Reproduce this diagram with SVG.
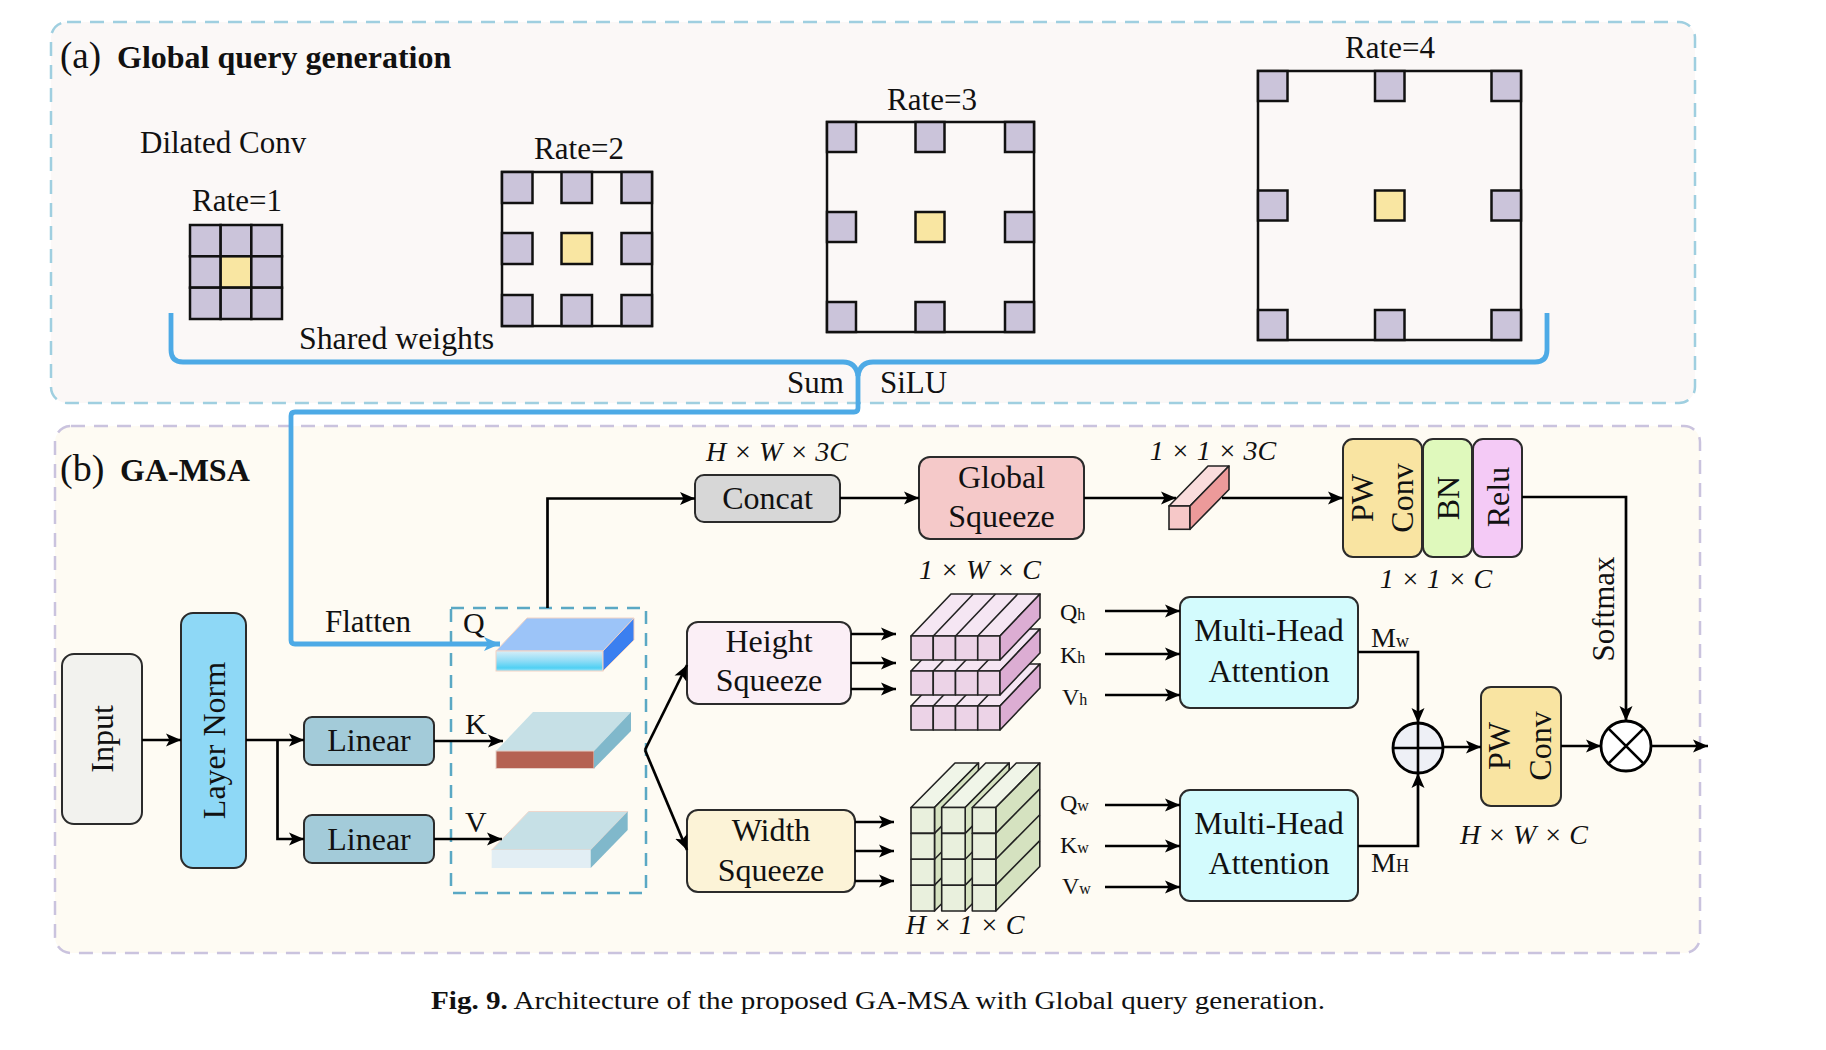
<svg xmlns="http://www.w3.org/2000/svg" width="1826" height="1050" viewBox="0 0 1826 1050">
<defs>
<style>
.s{font-family:"Liberation Serif","Times New Roman",serif;fill:#111;}
.f32{font-size:32px;}
.f31{font-size:31px;}
.f30{font-size:30px;}
.it{font-size:28px;font-style:italic;}
.box{stroke:#2b2b2b;stroke-width:2;}
.ln{stroke:#000;stroke-width:2.7;fill:none;}
.arr{marker-end:url(#ah);}
.blue{stroke:#4daae6;stroke-width:4.8;fill:none;stroke-linejoin:round;}
.cell{fill:#cbc4da;stroke:#111;stroke-width:2.5;}
.ctr{fill:#f9e6a2;stroke:#111;stroke-width:2.5;}
.frame{fill:none;stroke:#111;stroke-width:2.5;}
.hs{stroke:#222;stroke-width:1.6;stroke-linejoin:round;}
.ws{stroke:#222;stroke-width:1.6;stroke-linejoin:round;}
</style>
<marker id="ah" markerUnits="userSpaceOnUse" markerWidth="17" markerHeight="14" refX="15" refY="7" orient="auto"><path d="M0,0.5 L15,7 L0,13.5 L3.5,7 z" fill="#000"/></marker>
<marker id="ahb" markerUnits="userSpaceOnUse" markerWidth="18" markerHeight="16" refX="16" refY="8" orient="auto"><path d="M0,1 L16,8 L0,15 L4,8 z" fill="#4daae6"/></marker>
<linearGradient id="qfront" x1="0" y1="0" x2="0" y2="1">
<stop offset="0" stop-color="#d6eef8"/><stop offset="0.5" stop-color="#8fdcf6"/><stop offset="0.85" stop-color="#4fd0f4"/><stop offset="1" stop-color="#9fe4f8"/>
</linearGradient>
</defs>
<rect width="1826" height="1050" fill="#ffffff"/>

<!-- Panel (a) -->
<g id="panel-a">
<rect x="51" y="22" width="1644" height="381" rx="16" fill="#fbf8f7" stroke="#9fcfe0" stroke-width="2.5" stroke-dasharray="14 9"/>
<text class="s" x="60" y="68" style="font-size:37px">(a)</text>
<text class="s" x="117" y="68" style="font-size:32px;font-weight:bold">Global query generation</text>
<text class="s f31" x="140" y="153">Dilated Conv</text>
</g>

<g id="rate1">
<text class="s f31" x="237" y="211" text-anchor="middle">Rate=1</text>
<rect class="cell" x="190" y="225" width="30.67" height="31.33"/>
<rect class="cell" x="220.67" y="225" width="30.67" height="31.33"/>
<rect class="cell" x="251.33" y="225" width="30.67" height="31.33"/>
<rect class="cell" x="190" y="256.33" width="30.67" height="31.33"/>
<rect class="ctr" x="220.67" y="256.33" width="30.67" height="31.33"/>
<rect class="cell" x="251.33" y="256.33" width="30.67" height="31.33"/>
<rect class="cell" x="190" y="287.67" width="30.67" height="31.33"/>
<rect class="cell" x="220.67" y="287.67" width="30.67" height="31.33"/>
<rect class="cell" x="251.33" y="287.67" width="30.67" height="31.33"/>
</g>

<g id="rate2">
<text class="s f31" x="579" y="159" text-anchor="middle">Rate=2</text>
<rect class="frame" x="502" y="172" width="150" height="154"/>
<rect class="cell" x="502" y="172" width="30.5" height="31"/>
<rect class="cell" x="561.5" y="172" width="30.5" height="31"/>
<rect class="cell" x="621.5" y="172" width="30.5" height="31"/>
<rect class="cell" x="502" y="233" width="30.5" height="31"/>
<rect class="ctr" x="561.5" y="233" width="30.5" height="31"/>
<rect class="cell" x="621.5" y="233" width="30.5" height="31"/>
<rect class="cell" x="502" y="295" width="30.5" height="31"/>
<rect class="cell" x="561.5" y="295" width="30.5" height="31"/>
<rect class="cell" x="621.5" y="295" width="30.5" height="31"/>
</g>

<g id="rate3">
<text class="s f31" x="932" y="110" text-anchor="middle">Rate=3</text>
<rect class="frame" x="827" y="122" width="207" height="210"/>
<rect class="cell" x="827" y="122" width="29" height="30"/>
<rect class="cell" x="915.5" y="122" width="29" height="30"/>
<rect class="cell" x="1005" y="122" width="29" height="30"/>
<rect class="cell" x="827" y="212" width="29" height="30"/>
<rect class="ctr" x="915.5" y="212" width="29" height="30"/>
<rect class="cell" x="1005" y="212" width="29" height="30"/>
<rect class="cell" x="827" y="302" width="29" height="30"/>
<rect class="cell" x="915.5" y="302" width="29" height="30"/>
<rect class="cell" x="1005" y="302" width="29" height="30"/>
</g>

<g id="rate4">
<text class="s f31" x="1390" y="58" text-anchor="middle">Rate=4</text>
<rect class="frame" x="1258" y="71" width="263" height="269"/>
<rect class="cell" x="1258" y="71" width="29.5" height="30"/>
<rect class="cell" x="1375" y="71" width="29.5" height="30"/>
<rect class="cell" x="1491.5" y="71" width="29.5" height="30"/>
<rect class="cell" x="1258" y="190.5" width="29.5" height="30"/>
<rect class="ctr" x="1375" y="190.5" width="29.5" height="30"/>
<rect class="cell" x="1491.5" y="190.5" width="29.5" height="30"/>
<rect class="cell" x="1258" y="310" width="29.5" height="30"/>
<rect class="cell" x="1375" y="310" width="29.5" height="30"/>
<rect class="cell" x="1491.5" y="310" width="29.5" height="30"/>
</g>

<g id="brace-labels">
<text class="s" x="299" y="349" style="font-size:31.8px">Shared weights</text>
<text class="s f31" x="787" y="393">Sum</text>
<text class="s f31" x="880" y="393">SiLU</text>
</g>

<!-- Panel (b) -->
<g id="panel-b">
<rect x="55" y="426" width="1645" height="527" rx="16" fill="#fefbf3" stroke="#cac3de" stroke-width="2.5" stroke-dasharray="14 9"/>
<text class="s" x="60" y="481" style="font-size:38px">(b)</text>
<text class="s" x="120" y="481" style="font-size:32px;font-weight:bold">GA-MSA</text>
</g>

<g id="input">
<rect class="box" x="62" y="654" width="80" height="170" rx="12" fill="#f2f2ee"/>
<text class="s f32" transform="translate(102,739) rotate(-90)" x="0" y="11" text-anchor="middle">Input</text>
</g>

<g id="layernorm">
<rect class="box" x="181" y="613" width="65" height="255" rx="12" fill="#8ed8f6"/>
<text class="s f32" transform="translate(213.5,740.5) rotate(-90)" x="0" y="11" text-anchor="middle">Layer Norm</text>
</g>

<g id="linear1">
<rect class="box" x="304" y="717" width="130" height="48" rx="8" fill="#a3cbd9"/>
<text class="s f32" x="369" y="751" text-anchor="middle">Linear</text>
</g>

<g id="linear2">
<rect class="box" x="304" y="815" width="130" height="48" rx="8" fill="#a3cbd9"/>
<text class="s f32" x="369" y="850" text-anchor="middle">Linear</text>
</g>

<g id="qkv">
<rect x="451" y="608" width="195" height="285" fill="none" stroke="#5aa8c4" stroke-width="2.5" stroke-dasharray="13 9"/>
<text class="s f30" x="463" y="633">Q</text>
<text class="s f30" x="465" y="734">K</text>
<text class="s f30" x="465" y="832">V</text>
<g id="q-slab">
<polygon points="496,651 603,651 634,618 527,618" fill="#9cc4f8" stroke="#f2d2c4" stroke-width="1"/>
<rect x="496" y="651" width="107" height="20" fill="url(#qfront)" stroke="#f2d2c4" stroke-width="1"/>
<polygon points="603,651 634,618 634,640 603,671" fill="#3b7ff0" stroke="#f2d2c4" stroke-width="1"/>
</g>
<g id="k-slab">
<polygon points="496,751 594,751 631,712 533,712" fill="#c6e0e6"/>
<rect x="496" y="751" width="98" height="17.5" fill="#b56252" stroke="#e6d0c8" stroke-width="1"/>
<polygon points="594,751 631,712 631,731 594,768.5" fill="#80b8cb"/>
</g>
<g id="v-slab">
<polygon points="491.7,850 590.7,850 627.7,811.5 528.7,811.5" fill="#c6e0e6" stroke="#eed6cc" stroke-width="1"/>
<rect x="491.7" y="850" width="99" height="18" fill="#e2eef4"/>
<polygon points="590.7,850 627.7,811.5 627.7,830 590.7,868" fill="#80b8cb"/>
</g>
</g>

<g id="concat">
<text class="s it" x="777" y="461" text-anchor="middle">H × W × 3C</text>
<rect class="box" x="695" y="475" width="145" height="47" rx="9" fill="#d7d7d7"/>
<text class="s f32" x="767.5" y="509" text-anchor="middle">Concat</text>
</g>

<g id="global-squeeze">
<rect class="box" x="919" y="457" width="165" height="82" rx="11" fill="#f5c9c9"/>
<text class="s f32" x="1001.5" y="488" text-anchor="middle">Global</text>
<text class="s f32" x="1001.5" y="527" text-anchor="middle">Squeeze</text>
</g>

<g id="bar-3c">
<text class="s it" x="1213" y="460" text-anchor="middle">1 × 1 × 3C</text>
<polygon points="1169,506 1190,506 1229,466 1208,466" fill="#fadcdc" stroke="#222" stroke-width="1.6" stroke-linejoin="round"/>
<rect x="1169" y="506" width="21" height="23.3" fill="#f6c8c8" stroke="#222" stroke-width="1.6"/>
<polygon points="1190,506 1229,466 1229,489.5 1190,529.3" fill="#ec9a9a" stroke="#222" stroke-width="1.6" stroke-linejoin="round"/>
</g>

<g id="pwconv-bn-relu">
<rect class="box" x="1343" y="439" width="79" height="118" rx="10" fill="#f9e4a2"/>
<rect class="box" x="1423" y="439" width="49" height="118" rx="10" fill="#dff9bc"/>
<rect class="box" x="1473" y="439" width="49" height="118" rx="10" fill="#f4caf6"/>
<g transform="translate(1382.5,498) rotate(-90)">
<text class="s f32" x="0" y="-9.5" text-anchor="middle">PW</text>
<text class="s f32" x="0" y="30.5" text-anchor="middle">Conv</text>
</g>
<text class="s f32" transform="translate(1447.5,498) rotate(-90)" x="0" y="11" text-anchor="middle">BN</text>
<text class="s f32" transform="translate(1497.5,497) rotate(-90)" x="0" y="11" text-anchor="middle">Relu</text>
<text class="s it" x="1436" y="588" text-anchor="middle">1 × 1 × C</text>
</g>

<g id="height-squeeze">
<rect class="box" x="687" y="622" width="164" height="82" rx="11" fill="#fbeff6"/>
<text class="s f32" x="769" y="652" text-anchor="middle">Height</text>
<text class="s f32" x="769" y="691" text-anchor="middle">Squeeze</text>
</g>

<g id="width-squeeze">
<rect class="box" x="687" y="810" width="168" height="82" rx="11" fill="#fcf3d7"/>
<text class="s f32" x="771" y="841" text-anchor="middle">Width</text>
<text class="s f32" x="771" y="881" text-anchor="middle">Squeeze</text>
</g>

<g id="height-stack">
<text class="s it" x="980" y="579" text-anchor="middle">1 × W × C</text>
<g class="hs">
<polygon points="911,706 1000,706 1040,664 951,664" fill="#f5e6f3"/>
<path d="M933.25,706 l40,-42 M955.5,706 l40,-42 M977.75,706 l40,-42" fill="none"/>
<rect x="911" y="706" width="22.25" height="24" fill="#ecd3e7"/>
<rect x="933.25" y="706" width="22.25" height="24" fill="#ecd3e7"/>
<rect x="955.5" y="706" width="22.25" height="24" fill="#ecd3e7"/>
<rect x="977.75" y="706" width="22.25" height="24" fill="#ecd3e7"/>
<polygon points="1000,706 1040,664 1040,688 1000,730" fill="#dcadd3"/>
</g>
<g class="hs">
<polygon points="911,671 1000,671 1040,629 951,629" fill="#f5e6f3"/>
<path d="M933.25,671 l40,-42 M955.5,671 l40,-42 M977.75,671 l40,-42" fill="none"/>
<rect x="911" y="671" width="22.25" height="24" fill="#ecd3e7"/>
<rect x="933.25" y="671" width="22.25" height="24" fill="#ecd3e7"/>
<rect x="955.5" y="671" width="22.25" height="24" fill="#ecd3e7"/>
<rect x="977.75" y="671" width="22.25" height="24" fill="#ecd3e7"/>
<polygon points="1000,671 1040,629 1040,653 1000,695" fill="#dcadd3"/>
</g>
<g class="hs">
<polygon points="911,636 1000,636 1040,594 951,594" fill="#f5e6f3"/>
<path d="M933.25,636 l40,-42 M955.5,636 l40,-42 M977.75,636 l40,-42" fill="none"/>
<rect x="911" y="636" width="22.25" height="24" fill="#ecd3e7"/>
<rect x="933.25" y="636" width="22.25" height="24" fill="#ecd3e7"/>
<rect x="955.5" y="636" width="22.25" height="24" fill="#ecd3e7"/>
<rect x="977.75" y="636" width="22.25" height="24" fill="#ecd3e7"/>
<polygon points="1000,636 1040,594 1040,618 1000,660" fill="#dcadd3"/>
</g>
</g>

<g id="width-stack">
<g class="ws">
<polygon points="911,807.5 934.5,807.5 978.5,763 955,763" fill="#f0f5e8"/>
<polygon points="934.5,807.5 978.5,763 978.5,866.5 934.5,911" fill="#d5e2c0"/>
<path d="M934.5,833.4 l44,-44.5 M934.5,859.2 l44,-44.5 M934.5,885.1 l44,-44.5" fill="none"/>
<rect x="911" y="807.5" width="23.5" height="25.9" fill="#e9f0dd"/>
<rect x="911" y="833.4" width="23.5" height="25.9" fill="#e9f0dd"/>
<rect x="911" y="859.3" width="23.5" height="25.9" fill="#e9f0dd"/>
<rect x="911" y="885.2" width="23.5" height="25.8" fill="#e9f0dd"/>
</g>
<g class="ws">
<polygon points="941.7,807.5 965.2,807.5 1009.2,763 985.7,763" fill="#f0f5e8"/>
<polygon points="965.2,807.5 1009.2,763 1009.2,866.5 965.2,911" fill="#d5e2c0"/>
<path d="M965.2,833.4 l44,-44.5 M965.2,859.2 l44,-44.5 M965.2,885.1 l44,-44.5" fill="none"/>
<rect x="941.7" y="807.5" width="23.5" height="25.9" fill="#e9f0dd"/>
<rect x="941.7" y="833.4" width="23.5" height="25.9" fill="#e9f0dd"/>
<rect x="941.7" y="859.3" width="23.5" height="25.9" fill="#e9f0dd"/>
<rect x="941.7" y="885.2" width="23.5" height="25.8" fill="#e9f0dd"/>
</g>
<g class="ws">
<polygon points="972.3,807.5 995.8,807.5 1039.8,763 1016.3,763" fill="#f0f5e8"/>
<polygon points="995.8,807.5 1039.8,763 1039.8,866.5 995.8,911" fill="#d5e2c0"/>
<path d="M995.8,833.4 l44,-44.5 M995.8,859.2 l44,-44.5 M995.8,885.1 l44,-44.5" fill="none"/>
<rect x="972.3" y="807.5" width="23.5" height="25.9" fill="#e9f0dd"/>
<rect x="972.3" y="833.4" width="23.5" height="25.9" fill="#e9f0dd"/>
<rect x="972.3" y="859.3" width="23.5" height="25.9" fill="#e9f0dd"/>
<rect x="972.3" y="885.2" width="23.5" height="25.8" fill="#e9f0dd"/>
</g>
<text class="s it" x="965" y="934" text-anchor="middle">H × 1 × C</text>
</g>

<g id="qkv-h-labels">
<text class="s" x="1060" y="620" style="font-size:24px">Q<tspan style="font-size:16px">h</tspan></text>
<text class="s" x="1060" y="663" style="font-size:24px">K<tspan style="font-size:16px">h</tspan></text>
<text class="s" x="1062" y="705" style="font-size:24px">V<tspan style="font-size:16px">h</tspan></text>
</g>
<g id="qkv-w-labels">
<text class="s" x="1060" y="811" style="font-size:24px">Q<tspan style="font-size:16px">w</tspan></text>
<text class="s" x="1060" y="853" style="font-size:24px">K<tspan style="font-size:16px">w</tspan></text>
<text class="s" x="1062" y="894" style="font-size:24px">V<tspan style="font-size:16px">w</tspan></text>
</g>

<g id="mha1">
<rect class="box" x="1180" y="597" width="178" height="111" rx="10" fill="#d3fbfd"/>
<text class="s f32" x="1269" y="641" text-anchor="middle">Multi-Head</text>
<text class="s f32" x="1269" y="682" text-anchor="middle">Attention</text>
</g>

<g id="mha2">
<rect class="box" x="1180" y="790" width="178" height="111" rx="10" fill="#d3fbfd"/>
<text class="s f32" x="1269" y="834" text-anchor="middle">Multi-Head</text>
<text class="s f32" x="1269" y="874" text-anchor="middle">Attention</text>
</g>

<g id="m-labels">
<text class="s" x="1371" y="647" style="font-size:28px">M<tspan style="font-size:18px">w</tspan></text>
<text class="s" x="1371" y="872" style="font-size:28px">M<tspan style="font-size:18px">H</tspan></text>
</g>

<g id="add">
<circle cx="1418" cy="748" r="25" fill="#eef0f6" stroke="#000" stroke-width="2.8"/>
<path d="M1393,748 H1443 M1418,723 V773" stroke="#000" stroke-width="2.6"/>
</g>

<g id="pwconv2">
<rect class="box" x="1481" y="687" width="80" height="119" rx="10" fill="#f9e4a2"/>
<g transform="translate(1521,746) rotate(-90)">
<text class="s f32" x="0" y="-11" text-anchor="middle">PW</text>
<text class="s f32" x="0" y="30" text-anchor="middle">Conv</text>
</g>
<text class="s it" x="1524" y="844" text-anchor="middle">H × W × C</text>
</g>

<g id="mul">
<circle cx="1626" cy="746" r="25" fill="#ffffff" stroke="#000" stroke-width="2.8"/>
<path d="M1608.3,728.3 L1643.7,763.7 M1643.7,728.3 L1608.3,763.7" stroke="#000" stroke-width="2.6"/>
</g>

<g id="softmax-label">
<text class="s f31" transform="translate(1603,609) rotate(-90)" x="0" y="11" text-anchor="middle">Softmax</text>
</g>

<text class="s" x="431" y="1009" textLength="894" lengthAdjust="spacingAndGlyphs" style="font-size:26px"><tspan font-weight="bold">Fig. 9.</tspan> Architecture of the proposed GA-MSA with Global query generation.</text>

<!-- Connectors -->
<g id="connectors">
<path class="blue" d="M171,313 V350 Q171,362 183,362 H843 Q856,362 858,376"/>
<path class="blue" d="M1547,313 V350 Q1547,362 1535,362 H873 Q860,362 858,376"/>
<path class="blue" d="M858,374 V408 Q858,412 854,412 H295 Q291,412 291,416 V640 Q291,644 295,644 H500" marker-end="url(#ahb)"/>
<text class="s f31" x="325" y="632">Flatten</text>

<path class="ln arr" d="M142,740 H181"/>
<path class="ln arr" d="M246,740 H304"/>
<path class="ln arr" d="M277.5,740 V839 H304"/>
<path class="ln arr" d="M434,741 H503"/>
<path class="ln arr" d="M434,839 H502"/>
<path class="ln arr" d="M547.5,608 V498.5 H695"/>
<path class="ln arr" d="M840,498 H919"/>
<path class="ln arr" d="M1084,498 H1176"/>
<path class="ln arr" d="M1222,498 H1343"/>
<path class="ln arr" d="M1522,497 H1626 V721"/>
<path class="ln arr" d="M645,750 L687,665"/>
<path class="ln arr" d="M645,750 L687,850"/>
<path class="ln arr" d="M851,634 H896"/>
<path class="ln arr" d="M851,663 H896"/>
<path class="ln arr" d="M851,689 H896"/>
<path class="ln arr" d="M855,822 H894"/>
<path class="ln arr" d="M855,851 H894"/>
<path class="ln arr" d="M855,881 H894"/>
<path class="ln arr" d="M1105,611 H1180"/>
<path class="ln arr" d="M1105,654 H1180"/>
<path class="ln arr" d="M1105,695 H1180"/>
<path class="ln arr" d="M1105,805 H1180"/>
<path class="ln arr" d="M1105,846 H1180"/>
<path class="ln arr" d="M1105,887 H1180"/>
<path class="ln arr" d="M1358,652 H1418 V723"/>
<path class="ln arr" d="M1358,846 H1418 V773"/>
<path class="ln arr" d="M1443,747 H1481"/>
<path class="ln arr" d="M1561,746 H1601"/>
<path class="ln arr" d="M1651,746 H1708"/>
</g>
</svg>
